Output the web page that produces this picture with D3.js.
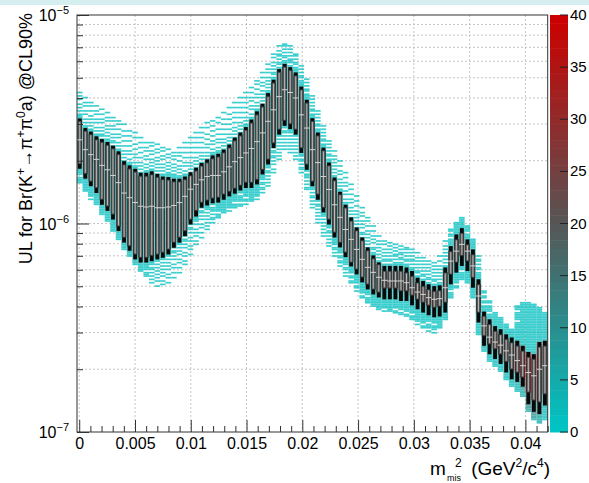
<!DOCTYPE html>
<html>
<head>
<meta charset="utf-8">
<script src="https://cdn.jsdelivr.net/npm/d3@7"></script>
<style>
  body { margin: 0; background: #fff; }
  svg { display: block; }
  text { font-family: "Liberation Sans", Arial, Helvetica, sans-serif; fill: #000; }
</style>
</head>
<body>
<svg id="chart" width="589" height="483"></svg>
<script>
// ---- binning ----
const xMin = -0.0002, xMax = 0.042, nBinsX = 85;
const yMin = 1e-7, yMax = 1e-5, nBinsY = 250;
const zMax = 40;

// ---- axis ticks ----
const xTicks = [0, 0.005, 0.01, 0.015, 0.02, 0.025, 0.03, 0.035, 0.04];
const xTickLabels = ["0", "0.005", "0.01", "0.015", "0.02", "0.025", "0.03", "0.035", "0.04"];
const yDecades = [1e-7, 1e-6, 1e-5];
const yDecadeExponents = ["\u22127", "\u22126", "\u22125"];
const zTicks = [0, 5, 10, 15, 20, 25, 30, 35, 40];

// ---- per-bin toy upper-limit distributions (units of 1e-6) ----
const ulMax = [4.38, 4.14, 3.92, 3.79, 3.59, 3.51, 3.32, 3.22, 3.08, 2.88, 2.82, 2.67, 2.52, 2.52, 2.47, 2.39, 2.31, 2.26, 2.39, 2.52, 2.67, 2.82, 2.98, 3.15, 3.22, 3.32,
  3.51, 3.71, 3.92, 4.14, 4.38, 4.63, 5.00, 5.46, 5.96, 6.65, 7.19, 7.43, 7.19, 6.65, 5.77, 5.00, 4.14, 3.51, 2.98, 2.52, 2.26, 2.03, 1.81, 1.59, 1.38, 1.23, 1.105, 0.989, 0.886,
  0.839, 0.82, 0.812, 0.794, 0.786, 0.768, 0.735, 0.703, 0.673, 0.658, 0.711, 0.839, 0.955, 1.02, 1.07, 0.989, 0.839, 0.711, 0.483, 0.433, 0.38, 0.355, 0.329, 0.311, 0.41, 0.419, 0.419, 0.41, 0.397, 0.38];
const whiskerHi = [3.19, 2.87, 2.76, 2.62, 2.54, 2.46, 2.36, 2.22, 1.99, 1.90, 1.83, 1.75, 1.75, 1.78, 1.73, 1.68, 1.67, 1.64, 1.64, 1.68, 1.76, 1.85, 1.95, 2.03, 2.12, 2.16,
  2.26, 2.39, 2.58, 2.73, 2.90, 3.15, 3.45, 3.75, 4.22, 4.89, 5.50, 5.83, 5.62, 5.30, 4.54, 3.92, 3.20, 2.73, 2.31, 1.96, 1.66, 1.42, 1.23, 1.07, 0.957, 0.857, 0.768, 0.703, 0.65,
  0.626, 0.626, 0.626, 0.626, 0.615, 0.592, 0.549, 0.530, 0.511, 0.501, 0.505, 0.615, 0.779, 0.886, 0.95, 0.839, 0.751, 0.540, 0.378, 0.347, 0.322, 0.311, 0.294, 0.284, 0.274, 0.259, 0.242, 0.236, 0.27, 0.274];
const boxHi = [3.10, 2.78, 2.68, 2.53, 2.46, 2.38, 2.29, 2.15, 1.92, 1.83, 1.77, 1.69, 1.69, 1.72, 1.67, 1.63, 1.62, 1.59, 1.59, 1.63, 1.70, 1.79, 1.89, 1.96, 2.05, 2.09,
  2.19, 2.31, 2.50, 2.64, 2.81, 3.04, 3.33, 3.63, 4.08, 4.73, 5.33, 5.64, 5.44, 5.12, 4.39, 3.79, 3.10, 2.64, 2.24, 1.90, 1.61, 1.38, 1.19, 1.03, 0.926, 0.83, 0.743, 0.68, 0.637,
  0.592, 0.592, 0.592, 0.592, 0.581, 0.560, 0.520, 0.501, 0.483, 0.474, 0.478, 0.581, 0.737, 0.839, 0.90, 0.794, 0.711, 0.511, 0.36, 0.329, 0.305, 0.294, 0.279, 0.269, 0.259, 0.245, 0.229, 0.224, 0.256, 0.259];
const median = [2.52, 2.26, 2.14, 2.03, 1.90, 1.81, 1.70, 1.57, 1.40, 1.33, 1.26, 1.21, 1.20, 1.21, 1.19, 1.19, 1.20, 1.22, 1.26, 1.35, 1.46, 1.54, 1.62, 1.68, 1.70, 1.70,
  1.77, 1.87, 1.98, 2.07, 2.18, 2.29, 2.47, 2.72, 3.09, 3.51, 4.06, 4.38, 4.25, 4.00, 3.32, 2.87, 2.26, 1.96, 1.68, 1.455, 1.23, 1.07, 0.936, 0.839, 0.751, 0.673, 0.616, 0.583, 0.552,
  0.534, 0.530, 0.530, 0.530, 0.520, 0.492, 0.469, 0.457, 0.441, 0.433, 0.436, 0.492, 0.66, 0.737, 0.794, 0.737, 0.626, 0.449, 0.323, 0.285, 0.27, 0.261, 0.245, 0.234, 0.22, 0.208, 0.193, 0.186, 0.20, 0.208];
const boxLo = [1.93, 1.73, 1.59, 1.48, 1.30, 1.21, 1.105, 0.97, 0.855, 0.78, 0.711, 0.685, 0.685, 0.70, 0.711, 0.725, 0.751, 0.81, 0.855, 0.92, 1.045, 1.15, 1.26, 1.29, 1.32, 1.33,
  1.38, 1.42, 1.47, 1.52, 1.57, 1.57, 1.62, 1.81, 2.03, 2.43, 2.82, 3.11, 3.00, 2.82, 2.30, 1.92, 1.59, 1.38, 1.19, 1.045, 0.906, 0.81, 0.727, 0.65, 0.603, 0.552, 0.511, 0.483, 0.467,
  0.489, 0.489, 0.489, 0.474, 0.474, 0.452, 0.433, 0.418, 0.405, 0.395, 0.40, 0.418, 0.570, 0.65, 0.70, 0.66, 0.549, 0.374, 0.289, 0.264, 0.25, 0.236, 0.217, 0.20, 0.193, 0.183, 0.155, 0.142, 0.139, 0.152];
const whiskerLo = [1.83, 1.64, 1.51, 1.40, 1.23, 1.15, 1.045, 0.92, 0.81, 0.74, 0.673, 0.65, 0.65, 0.66, 0.673, 0.685, 0.711, 0.765, 0.81, 0.87, 0.99, 1.08, 1.19, 1.22, 1.25, 1.26,
  1.30, 1.35, 1.39, 1.44, 1.48, 1.48, 1.54, 1.72, 1.92, 2.30, 2.67, 2.94, 2.84, 2.67, 2.18, 1.81, 1.51, 1.30, 1.13, 0.989, 0.857, 0.768, 0.69, 0.623, 0.570, 0.522, 0.483, 0.457, 0.442,
  0.433, 0.433, 0.433, 0.425, 0.425, 0.405, 0.388, 0.374, 0.363, 0.355, 0.358, 0.374, 0.511, 0.581, 0.626, 0.592, 0.492, 0.335, 0.259, 0.236, 0.224, 0.212, 0.193, 0.179, 0.174, 0.165, 0.136, 0.125, 0.122, 0.134];
const ulMin = [1.54, 1.42, 1.30, 1.23, 1.105, 1.02, 0.916, 0.839, 0.751, 0.69, 0.637, 0.59, 0.552, 0.511, 0.494, 0.494, 0.511, 0.54, 0.57, 0.616, 0.69, 0.768, 0.839, 0.916, 0.989, 1.045,
  1.105, 1.14, 1.17, 1.19, 1.23, 1.26, 1.30, 1.38, 1.49, 1.72, 1.98, 2.21, 2.14, 1.98, 1.72, 1.42, 1.17, 0.989, 0.857, 0.768, 0.69, 0.616, 0.552, 0.511, 0.472, 0.433, 0.41, 0.397, 0.38,
  0.38, 0.375, 0.371, 0.363, 0.355, 0.34, 0.325, 0.311, 0.301, 0.298, 0.311, 0.347, 0.433, 0.483, 0.528, 0.511, 0.433, 0.294, 0.244, 0.219, 0.207, 0.196, 0.179, 0.166, 0.157, 0.147, 0.126, 0.115, 0.11, 0.115];
const nToys = [250, 250, 250, 250, 250, 250, 250, 250, 250, 250, 250, 250, 250, 250, 250, 250, 250, 250, 250, 250, 250, 250, 250, 250, 250, 250,
  250, 250, 250, 250, 250, 250, 250, 250, 250, 250, 250, 250, 250, 250, 250, 250, 250, 250, 250, 250, 250, 250, 250, 250, 250, 250, 250, 250, 250,
  250, 250, 250, 250, 250, 250, 250, 250, 250, 250, 250, 250, 250, 250, 250, 250, 250, 300, 300, 300, 300, 300, 300, 300, 600, 1000, 1200, 1200, 1000, 600];
// cumulative fractions at the summary points: min, whiskerLo, boxLo, median, boxHi, whiskerHi, max
const quantileLevels = [0, 0.035, 0.10, 0.5, 0.90, 0.965, 1];

// ---- layout ----
const frame = { x0: 77, x1: 547.7, y0: 15, y1: 432 };
const svg = d3.select("#chart");
const x = d3.scaleLinear([xMin, xMax], [frame.x0, frame.x1]);
const y = d3.scaleLog([yMin, yMax], [frame.y1, frame.y0]);
const z = d3.scaleLinear([0, zMax], [frame.y1, frame.y0]);

const nLevels = 50;
const ramp = d3.scaleLinear().domain([0, 0.5, 1]).range(["#00c4c4", "#565656", "#cc0000"]);
const levelColor = i => ramp(i / (nLevels - 1));
const countColor = c => levelColor(Math.min(nLevels - 1, Math.floor(c / zMax * nLevels)));

// thin band along the top edge
svg.append("rect").attr("x", 0).attr("y", 0).attr("width", 589).attr("height", 5).attr("fill", "#d5eff0");

// ---- grid ----
const grid = svg.append("g").attr("stroke", "#b8b8b8").attr("stroke-width", 0.8).attr("stroke-dasharray", "2,2");
grid.selectAll("line.gx").data(xTicks).join("line")
  .attr("x1", d => x(d)).attr("x2", d => x(d)).attr("y1", frame.y0).attr("y2", frame.y1);
const yGridVals = [];
yDecades.slice(0, 2).forEach(dec => { for (let m = 1; m <= 9; m++) yGridVals.push(m * dec); });
grid.selectAll("line.gy").data(yGridVals.filter(v => v > yMin)).join("line")
  .attr("x1", frame.x0).attr("x2", frame.x1).attr("y1", d => y(d)).attr("y2", d => y(d));

// ---- 2D histogram of toy upper limits ----
const binW = (xMax - xMin) / nBinsX;
const logMin = Math.log10(yMin), logSpan = Math.log10(yMax) - logMin;
const cells = [];
for (let k = 0; k < nBinsX; k++) {
  const knots = [ulMin[k], whiskerLo[k], boxLo[k], median[k], boxHi[k], whiskerHi[k], ulMax[k]]
    .map(v => Math.log10(v * 1e-6));
  const N = nToys[k];
  const counts = new Map();
  for (let j = 0; j < N; j++) {
    const p = (j + 0.5) / N;
    let s = 0;
    while (s < quantileLevels.length - 2 && p > quantileLevels[s + 1]) s++;
    let t = (p - quantileLevels[s]) / (quantileLevels[s + 1] - quantileLevels[s]);
    if (s === 0) t = 1 - Math.pow(1 - t, 1.3);           // lower tail thins out away from the whisker
    if (s === quantileLevels.length - 2) t = Math.pow(t, 1.3); // upper tail likewise
    const lv = knots[s] + t * (knots[s + 1] - knots[s]);
    const b = Math.floor((lv - logMin) / logSpan * nBinsY);
    if (b >= 0 && b < nBinsY) counts.set(b, (counts.get(b) || 0) + 1);
  }
  counts.forEach((c, b) => cells.push({ k, b, c }));
}
const yEdge = b => Math.pow(10, logMin + b * logSpan / nBinsY);
svg.append("g").attr("fill-opacity", 0.78).selectAll("rect").data(cells).join("rect")
  .attr("x", d => x(xMin + d.k * binW))
  .attr("width", x(xMin + binW) - x(xMin))
  .attr("y", d => y(yEdge(d.b + 1)))
  .attr("height", d => y(yEdge(d.b)) - y(yEdge(d.b + 1)))
  .attr("fill", d => countColor(d.c));

// ---- candles ----
const bins = d3.range(nBinsX);
const cx = k => x(xMin + (k + 0.5) * binW);
const candleW = 0.7 * (x(xMin + binW) - x(xMin));
const yv = v => y(v * 1e-6);
const candles = svg.append("g");
candles.selectAll("rect.wh").data(bins).join("rect")
  .attr("x", k => cx(k) - candleW / 2).attr("width", candleW)
  .attr("y", k => yv(whiskerHi[k])).attr("height", k => yv(whiskerLo[k]) - yv(whiskerHi[k]))
  .attr("fill", "#0a0a0a");
candles.selectAll("rect.box").data(bins).join("rect")
  .attr("x", k => cx(k) - candleW / 2).attr("width", candleW)
  .attr("y", k => yv(boxHi[k])).attr("height", k => yv(boxLo[k]) - yv(boxHi[k]))
  .attr("fill", "#555").attr("stroke", "#2a2a2a").attr("stroke-width", 0.6);
candles.selectAll("line.inner").data(bins).join("line")
  .attr("x1", cx).attr("x2", cx)
  .attr("y1", k => yv(boxHi[k]) + 1).attr("y2", k => yv(boxLo[k]) - 1)
  .attr("stroke", "#bdbdbd").attr("stroke-width", 1);
candles.selectAll("line.med").data(bins).join("line")
  .attr("x1", k => cx(k) - 2.8).attr("x2", k => cx(k) + 2.8)
  .attr("y1", k => yv(median[k])).attr("y2", k => yv(median[k]))
  .attr("stroke", "#d4d4d4").attr("stroke-width", 1);

// ---- frame and axes ----
svg.append("rect").attr("x", frame.x0).attr("y", frame.y0)
  .attr("width", frame.x1 - frame.x0).attr("height", frame.y1 - frame.y0)
  .attr("fill", "none").attr("stroke", "#333").attr("stroke-width", 1);

const xMinor = d3.range(0, 0.04201, 0.001).filter(v => !xTicks.some(t => Math.abs(t - v) < 1e-9));
const xAxis = svg.append("g").attr("transform", `translate(0,${frame.y1})`)
  .call(d3.axisBottom(x).tickValues(xTicks).tickSize(-12).tickPadding(6)
    .tickFormat((d, i) => xTickLabels[i]));
svg.append("g").attr("transform", `translate(0,${frame.y1})`)
  .call(d3.axisBottom(x).tickValues(xMinor).tickSize(-6).tickFormat(""));
const yMinorVals = yGridVals.filter(v => !yDecades.includes(v));
svg.append("g").attr("transform", `translate(${frame.x0},0)`)
  .call(d3.axisLeft(y).tickValues(yDecades).tickSize(-12).tickFormat(""));
svg.append("g").attr("transform", `translate(${frame.x0},0)`)
  .call(d3.axisLeft(y).tickValues(yMinorVals).tickSize(-6).tickFormat(""));
svg.selectAll(".domain").remove();
svg.selectAll(".tick line").attr("stroke", "#333");
xAxis.selectAll("text").attr("font-size", 16).attr("font-family", "Liberation Sans, Arial, sans-serif").attr("fill", "#000");

const yLab = svg.append("g");
yDecades.forEach((v, i) => {
  const t = yLab.append("text").attr("x", 69).attr("y", y(v) + 6)
    .attr("text-anchor", "end").attr("font-size", 16);
  t.append("tspan").text("10");
  t.append("tspan").attr("dy", -7).attr("font-size", 11).text(yDecadeExponents[i]);
});

// ---- axis titles ----
const yTitle = svg.append("text").attr("transform", "translate(32,13) rotate(-90)")
  .attr("text-anchor", "end").attr("font-size", 18);
yTitle.append("tspan").text("UL for Br(K");
yTitle.append("tspan").attr("dy", -7).attr("font-size", 12).text("+");
yTitle.append("tspan").attr("dy", 7).text("\u2192\u03c0");
yTitle.append("tspan").attr("dy", -7).attr("font-size", 12).text("+");
yTitle.append("tspan").attr("dy", 7).text("\u03c0");
yTitle.append("tspan").attr("dy", -7).attr("font-size", 12).text("0");
yTitle.append("tspan").attr("dy", 7).text("a) @CL90%");

const xt = svg.append("g");
xt.append("text").attr("x", 430).attr("y", 475).attr("font-size", 19).text("m");
xt.append("text").attr("x", 447).attr("y", 481).attr("font-size", 9).text("mis");
xt.append("text").attr("x", 455).attr("y", 467).attr("font-size", 12).text("2");
const xTitle = xt.append("text").attr("x", 550).attr("y", 475).attr("text-anchor", "end").attr("font-size", 19);
xTitle.append("tspan").text("(GeV");
xTitle.append("tspan").attr("dy", -8).attr("font-size", 12).text("2");
xTitle.append("tspan").attr("dy", 8).text("/c");
xTitle.append("tspan").attr("dy", -8).attr("font-size", 12).text("4");
xTitle.append("tspan").attr("dy", 8).text(")");

// ---- colour scale ----
const pal = { x0: 550, x1: 568 };
const palG = svg.append("g");
palG.selectAll("rect").data(d3.range(nLevels)).join("rect")
  .attr("x", pal.x0).attr("width", pal.x1 - pal.x0)
  .attr("y", i => z((i + 1) * zMax / nLevels)).attr("height", i => z(i * zMax / nLevels) - z((i + 1) * zMax / nLevels) + 0.5)
  .attr("fill", i => levelColor(i));
palG.selectAll("line").data(zTicks).join("line")
  .attr("x1", pal.x1 - 8).attr("x2", pal.x1).attr("y1", d => z(d)).attr("y2", d => z(d))
  .attr("stroke", "#222").attr("stroke-width", 1);
palG.selectAll("text").data(zTicks).join("text")
  .attr("x", 570).attr("y", d => z(d) + 5).attr("font-size", 15).text(d => d);
</script>
</body>
</html>
